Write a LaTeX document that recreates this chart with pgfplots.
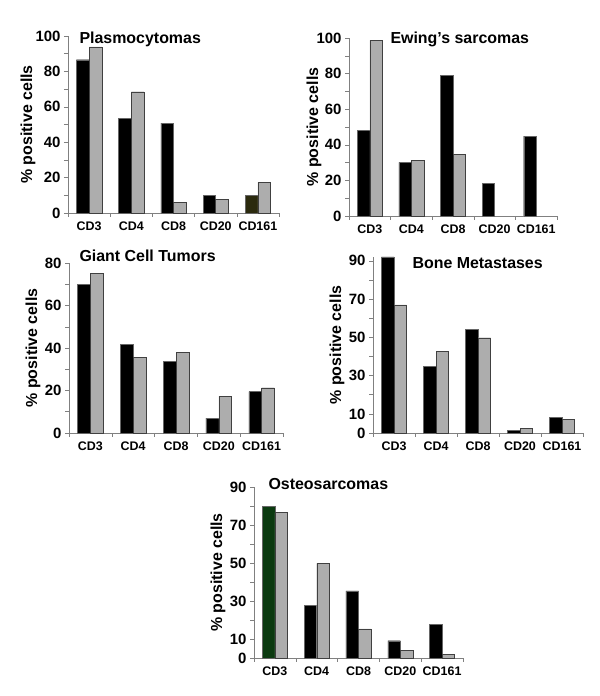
\documentclass[border=0pt]{standalone}
\usepackage{fontspec}
\setmainfont{Liberation Sans}
\usepackage{pgfplots}
\pgfplotsset{compat=1.18}
\definecolor{axgray}{gray}{0.5}
\definecolor{barg}{gray}{0.68}
\definecolor{darkolive}{HTML}{2B2A0E}
\definecolor{darkgrn}{HTML}{0B3A10}
\tikzset{ttl/.style={anchor=west, font=\bfseries\fontsize{16}{18}\selectfont}}
\pgfplotsset{
  panel/.style={
    scale only axis, anchor=south west,
    xmin=-0.5, xmax=4.5, ymin=0, enlargelimits=false,
    axis x line=bottom, axis y line=left,
    axis line style={-, draw=axgray, line width=0.6pt},
    tick align=outside,
    xtick={0,1,2,3,4}, xticklabels={CD3,CD4,CD8,CD20,CD161},
    minor xtick={-0.5,0.5,1.5,2.5,3.5,4.5},
    every major x tick/.style={draw=none},
    tick style={draw=axgray, line width=0.5pt},
    major tick length=4bp, minor tick length=4bp,
    /pgf/number format/assume math mode=true,
    xticklabel style={font=\bfseries\fontsize{12.5}{14}\selectfont, yshift=-1bp},
    yticklabel style={font=\bfseries\fontsize{15}{16}\selectfont},
    ylabel={\% positive cells},
    ylabel style={font=\bfseries\fontsize{16}{18}\selectfont, anchor=center},
    ybar, bar width=0.3,
    clip=false,
  },
  blk/.style={fill=black, draw=black!60, line width=0.4pt, bar shift=-0.15},
  gry/.style={fill=barg, draw=black!75, line width=0.4pt, bar shift=0.15},
}
\begin{document}
\begin{tikzpicture}
\path[use as bounding box] (0,0) rectangle (600bp,696bp);

% Plasmocytomas
\begin{axis}[panel, at={(68bp,483bp)}, width=211bp, height=177bp, ymax=100,
  ytick={0,20,40,60,80,100}, minor ytick={10,30,50,70,90},
  ylabel style={at={(axis description cs:-0.19,0.5)}}]
\addplot[blk] coordinates {(0,86.6) (1,53.5) (2,50.8) (3,10.0)};
\addplot[blk, fill=darkolive] coordinates {(4,9.8)};
\addplot[gry] coordinates {(0,93.8) (1,68.5) (2,6.2) (3,7.9) (4,17.3)};
\node[ttl, xshift=8bp, yshift=-3bp] at (rel axis cs:0,1) {Plasmocytomas};
\end{axis}

% Ewing's sarcomas
\begin{axis}[panel, at={(349bp,480bp)}, width=208bp, height=178bp, ymax=100,
  ytick={0,20,40,60,80,100}, minor ytick={10,30,50,70,90},
  ylabel style={at={(axis description cs:-0.168,0.5)}}]
\addplot[blk] coordinates {(0,48.2) (1,30.1) (2,79.1) (3,18.5) (4,44.9)};
\addplot[gry] coordinates {(0,98.7) (1,31.4) (2,34.6)};
\node[ttl, xshift=38bp, yshift=-1bp] at (rel axis cs:0,1) {Ewing’s sarcomas};
\end{axis}

% Giant Cell Tumors
\begin{axis}[panel, at={(69bp,263bp)}, width=214bp, height=170bp, ymax=80,
  ytick={0,20,40,60,80}, minor ytick={10,30,50,70},
  ylabel style={at={(axis description cs:-0.168,0.5)}}]
\addplot[blk] coordinates {(0,70.0) (1,41.7) (2,33.6) (3,7.0) (4,19.5)};
\addplot[gry] coordinates {(0,75.0) (1,35.5) (2,37.8) (3,17.3) (4,21.3)};
\node[ttl, xshift=7bp, yshift=7bp] at (rel axis cs:0,1) {Giant Cell Tumors};
\end{axis}

% Bone Metastases
\begin{axis}[panel, at={(373bp,263bp)}, width=210bp, height=176bp, ymax=92,
  ytick={0,10,30,50,70,90}, minor ytick={20,40,60,80},
  ylabel style={at={(axis description cs:-0.171,0.5)}}]
\addplot[blk] coordinates {(0,92.0) (1,35.0) (2,54.3) (3,1.4) (4,8.0)};
\addplot[gry] coordinates {(0,67.0) (1,42.7) (2,49.8) (3,2.4) (4,7.3)};
\node[ttl, xshift=36bp, yshift=-6bp] at (rel axis cs:0,1) {Bone Metastases};
\end{axis}

% Osteosarcomas
\begin{axis}[panel, at={(254bp,38bp)}, width=209bp, height=171bp, ymax=90,
  ytick={0,10,30,50,70,90}, minor ytick={20,40,60,80},
  ylabel style={at={(axis description cs:-0.172,0.5)}}]
\addplot[blk, fill=darkgrn] coordinates {(0,80.0)};
\addplot[blk] coordinates {(1,27.7) (2,35.3) (3,9.1) (4,17.6)};
\addplot[gry] coordinates {(0,76.5) (1,49.8) (2,15.3) (3,4.2) (4,2.1)};
\node[ttl, xshift=11bp, yshift=3bp] at (rel axis cs:0,1) {Osteosarcomas};
\end{axis}
\end{tikzpicture}
\end{document}
